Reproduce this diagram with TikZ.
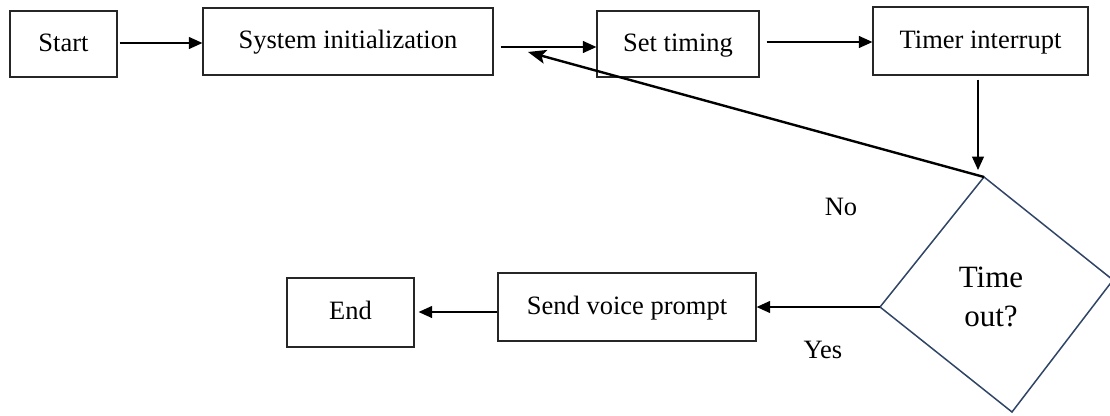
\documentclass[tikz,border=0pt]{standalone}
\usepackage{fontspec}
\setmainfont{Liberation Serif}
\usetikzlibrary{arrows.meta,calc}
\definecolor{dianavy}{RGB}{47,68,102}
\begin{document}
\begin{tikzpicture}[x=1pt,y=-1pt,
  box/.style={draw=black!85, line width=1.3pt, rectangle, inner sep=0pt, text height=19pt, text depth=5pt, font=\fontsize{26.5}{30}\selectfont},
  arr/.style={-{Triangle[length=13.5pt,width=12pt]}, line width=1.2pt},
  backarr/.style={-{Stealth[length=18pt,width=14pt,inset=4pt]}, line width=2.4pt},
  lbl/.style={font=\fontsize{26.5}{30}\selectfont, inner sep=0pt}]
\useasboundingbox (0,0) rectangle (1110,415);
% boxes
\node[box, minimum width=107pt, minimum height=66pt] (start) at (63.5,44) {Start\hspace{16pt}};
\node[box, minimum width=290pt, minimum height=67pt] (sys) at (348,41.5) {System initialization\hspace{30pt}};
\node[box, minimum width=162pt, minimum height=66pt] (set) at (678,44) {Set timing\hspace{12pt}};
\node[box, minimum width=215pt, minimum height=68pt] (timer) at (980.5,41) {Timer interrupt\hspace{8pt}};
\node[box, minimum width=258pt, minimum height=68pt] (send) at (627,307) {Send voice prompt\hspace{6pt}};
\node[box, minimum width=127pt, minimum height=69pt] (end) at (350.5,312.5) {End};
% decision
\coordinate (dT) at (984,177);
\coordinate (dR) at (1113,280);
\coordinate (dB) at (1012,412);
\coordinate (dL) at (880,307);
\draw[dianavy, line width=1.5pt, line join=miter] (dT) -- (dR) -- (dB) -- (dL) -- cycle;
\node[lbl, font=\fontsize{31}{39}\selectfont, align=center] (dq) at (991,297) {Time\\out?};
% connectors
\coordinate (a1s) at ($(start.east)+(2,-1)$);
\draw[arr] (a1s) -- (a1s -| sys.west);
\coordinate (a2s) at ($(sys.east)+(7,5.5)$);
\draw[arr] (a2s) -- (a2s -| set.west);
\coordinate (a3s) at ($(set.east)+(7,-2)$);
\draw[arr] (a3s) -- (a3s -| timer.west);
\coordinate (a4s) at ($(timer.south)+(-2.5,4)$);
\draw[arr, shorten >=7pt] (a4s) -- (a4s |- dT);
\coordinate (backend) at (528,52);
\draw[backarr] (dT) -- (backend);
\draw[arr] (dL) -- (dL -| send.east);
\coordinate (a7s) at ($(send.west)+(0,5)$);
\draw[arr, shorten >=4pt] (a7s) -- (a7s -| end.east);
% labels
\node[lbl] (no) at (841,207) {No};
\node[lbl] (yes) at (823,350) {Yes};
\end{tikzpicture}
\end{document}
